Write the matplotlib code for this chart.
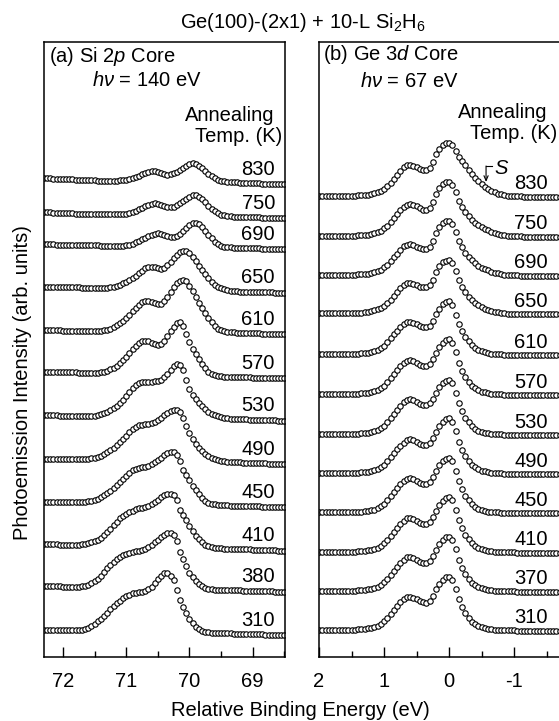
import matplotlib.pyplot as plt
from matplotlib.ticker import MultipleLocator

plt.rcParams['font.family'] = ['Liberation Sans', 'DejaVu Sans']
plt.rcParams['mathtext.fontset'] = 'custom'
plt.rcParams['mathtext.rm'] = 'Liberation Sans'
plt.rcParams['mathtext.it'] = 'Liberation Sans:italic'
plt.rcParams['axes.unicode_minus'] = False

# binding energies (eV), Si 2p panel and Ge 3d panel (relative)
si_energy = [72.3, 72.25, 72.2, 72.15, 72.1, 72.05, 72.0, 71.95, 71.9, 71.85,
             71.8, 71.75, 71.7, 71.65, 71.6, 71.55, 71.5, 71.45, 71.4, 71.35,
             71.3, 71.25, 71.2, 71.15, 71.1, 71.05, 71.0, 70.95, 70.9, 70.85,
             70.8, 70.75, 70.7, 70.65, 70.6, 70.55, 70.5, 70.45, 70.4, 70.35,
             70.3, 70.25, 70.2, 70.15, 70.1, 70.05, 70.0, 69.95, 69.9, 69.85,
             69.8, 69.75, 69.7, 69.65, 69.6, 69.55, 69.5, 69.45, 69.4, 69.35,
             69.3, 69.25, 69.2, 69.15, 69.1, 69.05, 69.0, 68.95, 68.9, 68.85,
             68.8, 68.75, 68.7, 68.65, 68.6, 68.55, 68.5]
ge_energy = [2.0, 1.95, 1.9, 1.85, 1.8, 1.75, 1.7, 1.65, 1.6, 1.55,
             1.5, 1.45, 1.4, 1.35, 1.3, 1.25, 1.2, 1.15, 1.1, 1.05,
             1.0, 0.95, 0.9, 0.85, 0.8, 0.75, 0.7, 0.65, 0.6, 0.55,
             0.5, 0.45, 0.4, 0.35, 0.3, 0.25, 0.2, 0.15, 0.1, 0.05,
             0.0, -0.05, -0.1, -0.15, -0.2, -0.25, -0.3, -0.35, -0.4, -0.45,
             -0.5, -0.55, -0.6, -0.65, -0.7, -0.75, -0.8, -0.85, -0.9, -0.95,
             -1.0, -1.05, -1.1, -1.15, -1.2, -1.25, -1.3, -1.35, -1.4, -1.45,
             -1.5, -1.55, -1.6, -1.65, -1.7, -1.75]

si_temps = ['830', '750', '690', '650', '610', '570', '530', '490', '450', '410', '380', '310']
ge_temps = ['830', '750', '690', '650', '610', '570', '530', '490', '450', '410', '370', '310']

# vertical offset of each spectrum (arb. units)
si_offset = [472.7, 438.7, 407.7, 364.3, 323, 278.7, 236.3, 193, 149.7, 106.3, 65.3, 22]
ge_offset = [460.3, 420.3, 381.3, 343, 302, 262, 222, 183, 143.7, 104.3, 65.3, 26.3]

# Si 2p intensities (arb. units, above right-hand background)
si_830 = [6, 6, 6, 5.5, 5.5, 5.5, 5, 5, 5, 5, 4.5, 4.5, 4.5, 4, 4, 4, 4,
          3.5, 3.5, 3.5, 3.5, 3.5, 3.5, 3.5, 4, 4,
          4.5, 5, 6, 7, 8.5, 10, 11, 12, 13, 13.3, 12.5, 11, 10, 9.5, 10, 11, 12.5, 14, 16, 18.5, 20,
          21, 20, 18, 16, 13, 10, 8, 6, 4.5, 3.5, 3, 2.5,
          2.2, 2, 2, 1.8, 1.6, 1.5, 1.3, 1.2, 1, 1, 0.8, 0.7, 0.5, 0.5, 0.3, 0.2, 0, 0]
si_750 = [6, 6, 6, 5.5, 5.5, 5.5, 5, 5, 5, 5, 4.5, 4.5, 4.5, 4.5,
          4, 4, 4, 4, 4, 4, 4, 4, 4, 4, 4, 4,
          4.5, 5, 6, 7.5, 9, 10.5, 12, 13.5, 14.5, 15, 14.5, 13.5, 12.5, 11.5, 11, 11.5, 13, 15, 17, 19.5, 21.5,
          23, 23, 21.5, 19, 16, 12.5, 9.5, 7, 5, 3.5, 3, 2.5, 2, 1.8,
          1.7, 1.6, 1.5, 1.4, 1.3, 1.2, 1.0, 0.9, 0.8, 0.7, 0.6, 0.5, 0.4, 0.2, 0.1, 0]
si_690 = [5, 5, 5, 5, 4.5, 4.5, 4.5, 4.5, 4.5, 4.5, 4, 4, 4, 4, 4, 4, 4, 4,
          3.5, 3.5, 3.5, 3.5, 3.5, 3.5, 3.5, 3.5,
          4, 4.5, 5.5, 7, 8.5, 10, 11.5, 13, 14.5, 15.5, 16, 15.5, 14.5, 13.5, 12.5, 12.5, 13.5, 15.5, 18, 21, 24,
          26, 26.5, 25, 22, 18.5, 14.5, 11, 7.5, 5, 3.5, 2.8, 2.3, 2,
          1.8, 1.7, 1.6, 1.5, 1.4, 1.3, 1.2, 1.0, 0.9, 0.8, 0.7, 0.6, 0.5, 0.4, 0.2, 0.1, 0]
si_650 = [6, 6, 6, 6, 5.5, 5.5, 5.5, 5.5, 5.5, 5.5, 5.5, 5.5,
          5, 5, 5, 5, 5, 5, 5, 5, 5,
          5.5, 6, 7, 8, 9.5, 11, 13, 15, 17, 19.5, 22, 24.5, 26, 26, 25.5, 24.5, 24, 25, 27.5, 31, 34.5,
          38, 40.5, 42, 41.5, 39.5,
          36, 32, 27, 22.5, 19, 14.5, 11, 8, 6, 4.5, 3.5, 2.5, 2, 1.5,
          1.3, 1.2, 1.1, 1.0, 0.9, 0.8, 0.7, 0.6, 0.5, 0.5, 0.4, 0.3, 0.2, 0.1, 0, 0]
si_610 = [4, 4, 4, 4, 4, 4, 3.5, 3.5, 3.5, 3.5, 3.5, 3.5, 3.5, 3.5, 3.5, 3.5, 3.5, 3.5, 3.5,
          4, 4.5, 5.5, 7, 9, 11, 13.5, 16.5, 19.5, 23, 26.5, 29.5, 32, 33.3, 33, 32, 31, 30, 30.5, 33,
          37.5, 42.5, 47.5, 51, 53.5, 54.5, 53.5, 48.5,
          43, 37.5, 31, 26, 21, 16, 12, 8, 5.5, 4, 3, 2.5, 2, 1.6,
          1.4, 1.2, 1.1, 1.0, 0.9, 0.8, 0.7, 0.6, 0.5, 0.4, 0.3, 0.3, 0.2, 0.1, 0, 0]
si_570 = [6.5, 6.5, 6.5, 6.5, 6.5, 6, 6, 6, 6, 6, 6, 5.5, 5.5, 5.5, 5.5, 5.5, 5.5, 5.5,
          6, 6.5, 7.5, 9, 10.5, 12.5, 15, 18, 21.5, 25, 29, 32.5, 35, 37, 37.7, 37, 35.5, 34, 33.3,
          34, 37, 42, 47, 51.5, 55,
          56.5, 52.5, 44, 36, 29, 24, 19, 14, 10, 6.5, 4.5, 3, 2.5, 2,
          1.8, 1.6, 1.5, 1.4, 1.3, 1.2, 1.1, 1.0, 0.9, 0.8, 0.7, 0.6, 0.5, 0.5, 0.4, 0.3, 0.2, 0.1, 0, 0]
si_530 = [5.5, 5.5, 5.5, 5.5, 5.5, 5, 5, 5, 5, 5, 5, 4.5, 4.5, 4.5, 4.5, 4.5,
          5, 5.5, 6.5, 7.5, 9, 11, 13, 15, 17.5, 21, 25, 29, 32.5, 35.5, 37.5, 38.5, 39, 39, 39, 39.5,
          40, 41, 43.5, 47, 51, 54.5, 57, 56,
          50.5, 41, 32, 26, 22, 18, 14.5, 11.5, 9, 7, 5.5, 4.5, 3.5, 3, 2.5,
          2.2, 2.0, 1.8, 1.6, 1.5, 1.4, 1.2, 1.1, 1.0, 0.8, 0.7, 0.6, 0.5, 0.4, 0.3, 0.2, 0.1, 0]
si_490 = [5.5, 5.5, 5.5, 5.5, 5.5, 5.5, 5, 5, 5, 5, 5, 5, 5, 5,
          5.5, 6, 6.5, 7.5, 8.5, 10, 12, 14, 16.5, 19, 22, 25, 28.5, 32, 35, 37.5, 39, 39.5, 40, 40.5,
          41, 42.5, 44.5, 46.5, 49, 51, 53, 54.5, 54.5, 52.5, 46.5, 38, 31, 25, 20.5, 16.5, 13, 10.5,
          8, 6.5, 5, 4, 3.3,
          2.8, 2.5, 2.2, 2.0, 1.8, 1.6, 1.5, 1.4, 1.2, 1.1, 1.0, 0.8, 0.7, 0.6, 0.5, 0.4, 0.3, 0.2, 0.1, 0]
si_450 = [5.5, 5.5, 5.5, 5.5, 5.5, 5.5, 5, 5, 5, 5, 5, 5, 5,
          5.5, 6, 6.5, 7.5, 8.5, 10, 12, 14, 16.5, 19, 22, 25, 28, 31.5, 34.5, 37, 38.5, 39.3, 40, 40.5,
          41.5, 43, 45, 47, 49.5, 52, 54, 55.5, 55, 52, 46, 37.5, 32, 27, 21.5, 17, 13, 9.5, 6.5, 4.8,
          3.6, 3, 2.5, 2.2,
          2.0, 1.9, 1.8, 1.7, 1.6, 1.5, 1.4, 1.3, 1.2, 1.1, 1.0, 0.9, 0.8, 0.6, 0.5, 0.4, 0.3, 0.2, 0.1, 0]
si_410 = [6.5, 6.5, 6.5, 6.5, 6.5, 6, 6, 6, 6, 6, 6, 6,
          6.5, 7, 7.5, 8.5, 9.5, 11, 13, 15.5, 18.5, 22, 25.5, 29, 32.5, 35, 37, 38.5, 40, 41.5, 42.5,
          43, 43.5, 44.5, 46.5, 48.5, 51, 53.5, 55.5, 57, 57, 55.5, 50.5, 41, 36, 31, 25, 20, 15, 12,
          8.5, 6, 4.5, 3.5, 3, 2.6, 2.3,
          2.1, 2.0, 1.9, 1.8, 1.7, 1.6, 1.5, 1.4, 1.3, 1.2, 1.0, 0.9, 0.8, 0.6, 0.5, 0.4, 0.3, 0.2, 0.1, 0]
si_380 = [5.5, 5.5, 5.5, 5.5, 5.5, 5.5, 5, 5, 5, 5, 5, 5,
          5.5, 6, 7, 8.5, 10.5, 13, 16, 19.5, 24, 27, 30, 32.5, 34.5, 36.5, 38, 39, 40, 40.5, 41, 41.5,
          42.5, 44.5, 47, 49.5, 52, 54.5, 57, 59, 58.5, 57, 51, 40, 33, 26, 19, 14.5, 10.5, 7.5, 5.5,
          4, 3, 2.5, 2.2, 2,
          1.9, 1.8, 1.7, 1.6, 1.5, 1.4, 1.3, 1.2, 1.1, 1.0, 0.9, 0.8, 0.7, 0.6, 0.5, 0.4, 0.3, 0.2, 0.1, 0, 0]
si_310 = [5.5, 5.5, 5.5, 5.5, 5.5, 5.5, 5, 5, 5, 5, 5, 5,
          5.5, 6, 7.5, 9, 11, 14, 16.5, 19, 22.5, 26, 29.5, 32, 34.5, 37, 39, 40.5, 42, 42.5, 43, 43.3,
          44, 46, 48.5, 52, 56, 59, 62, 62, 59.5, 55, 45, 35, 28, 22, 16.5, 12, 8.5, 6, 4.3, 3.3, 2.7,
          2.4, 2.2, 2,
          1.9, 1.8, 1.7, 1.6, 1.5, 1.4, 1.3, 1.2, 1.1, 1.0, 0.9, 0.8, 0.7, 0.6, 0.5, 0.4, 0.3, 0.2, 0.1, 0, 0]

# Ge 3d intensities
ge_830 = [1, 1, 1, 1, 1, 1, 1, 1, 1, 1, 1,
          1.1, 1.3, 1.5, 1.8, 2.2, 2.8, 3.5, 4.5, 6, 8, 10.5, 14, 18, 22, 26, 29.5, 31.5, 31.7, 31,
          29.5, 28, 27, 26.7, 29, 35, 42.5, 48, 51.5, 53.5, 54, 51.5, 46, 40, 35.5, 31.5, 27, 23, 19,
          15.5, 12.5, 10, 7.8, 5.8, 4.3, 3.2, 2.3, 1.6, 1.1, 0.8, 0.6, 0.4, 0.3, 0.2, 0.1,
          0, 0, 0, 0, 0, 0, 0, 0, 0, 0, 0]
ge_750 = [1, 1, 1, 1, 1, 1, 1, 1, 1, 1, 1,
          1.1, 1.3, 1.5, 1.8, 2.2, 2.8, 3.6, 4.7, 6.2, 8.3, 11, 14.5, 18.5,
          22.5, 26.5, 30, 32, 32.7, 32, 30.5, 28.5, 27, 26.7, 29, 35, 42.5, 48.5, 52.5, 54.5, 55, 52,
          44.5, 36, 30, 24.5, 20.5, 17, 14, 11.5, 9.5, 7.8, 6.3, 5, 3.9, 3, 2.2, 1.6, 1.2, 0.9, 0.6,
          0.4, 0.3, 0.2, 0.1,
          0, 0, 0, 0, 0, 0, 0, 0, 0, 0, 0]
ge_690 = [1, 1, 1, 1, 1, 1, 1, 1, 1, 1, 1,
          1.1, 1.3, 1.5, 1.8, 2.2, 2.8, 3.6, 4.7, 6.2, 8.3, 11, 14.5, 18.5,
          22, 26, 29.5, 31, 31.4, 30.5, 29, 27.5, 26.8, 26.7, 29, 35, 42.5, 48.5, 52.5, 54.5, 55, 52,
          44, 35, 28.5, 23, 19, 15.5, 12.5, 10, 8.2, 6.7, 5.3, 4.2, 3.2, 2.4, 1.7, 1.2, 0.9, 0.6, 0.4,
          0.3, 0.2, 0.1,
          0, 0, 0, 0, 0, 0, 0, 0, 0, 0, 0, 0]
ge_650 = [1, 1, 1, 1, 1, 1, 1, 1, 1, 1, 1,
          1.1, 1.3, 1.5, 1.8, 2.2, 2.8, 3.6, 4.7, 6.2, 8.3, 11, 14.5, 18.5,
          22, 26, 29.5, 31, 31.3, 30.5, 29, 27.5, 26.8, 26.7, 29, 34.5, 42, 48, 52, 53.5, 54, 51, 43,
          34, 27.5, 22, 17.5, 14, 11, 8.7, 6.8, 5.3, 4, 3, 2.2, 1.6, 1.1, 0.8, 0.5, 0.3, 0.2, 0.1,
          0, 0, 0, 0, 0, 0, 0, 0, 0, 0, 0, 0, 0, 0]
ge_610 = [1, 1, 1, 1, 1, 1, 1, 1, 1, 1, 1,
          1.2, 1.4, 1.6, 2, 2.5, 3, 3.8, 5, 7, 9.5, 13, 17, 21,
          24.5, 28, 31, 33, 33.3, 32.5, 31, 29.5, 28, 27.7, 29.5, 34.5, 41, 46.5, 51, 53.5, 54.3, 50,
          40, 31.5, 24.5, 18.5, 14, 10, 7, 5, 3.6, 2.7, 2, 1.5, 1.1, 0.8, 0.6, 0.4, 0.3, 0.2, 0.1,
          0, 0, 0, 0, 0, 0, 0, 0, 0, 0, 0, 0, 0, 0, 0]
ge_570 = [1, 1, 1, 1, 1, 1, 1, 1, 1, 1, 1,
          1.2, 1.4, 1.6, 2, 2.5, 3, 3.8, 5, 7, 9.5, 13, 17, 21,
          25, 29, 32, 34.5, 35, 34, 32.5, 30.5, 29.3, 29, 31, 36, 42.5, 48, 52.5, 55, 55.7, 52.5, 43,
          32.5, 24.5, 18, 13.5, 9.5, 6.7, 4.8, 3.5, 2.6, 1.9, 1.4, 1.1, 0.9, 0.7, 0.5, 0.4, 0.3, 0.3,
          0.2, 0.2, 0.1, 0.1,
          0, 0, 0, 0, 0, 0, 0, 0, 0, 0, 0]
ge_530 = [1, 1, 1, 1, 1, 1, 1, 1, 1, 1, 1,
          1.2, 1.4, 1.6, 2, 2.5, 3, 3.8, 5, 7, 9.5, 13, 17, 21.5,
          25.5, 29.5, 33, 35, 35.7, 35, 33.5, 31.5, 30.3, 30, 32, 36.5, 42.5, 48, 52, 54.5, 55, 52,
          42.5, 32, 24, 17.5, 13, 9, 6.3, 4.5, 3.3, 2.5, 1.8, 1.4, 1.1, 0.9, 0.7, 0.5, 0.4, 0.3, 0.3,
          0.2, 0.2, 0.1, 0.1,
          0, 0, 0, 0, 0, 0, 0, 0, 0, 0, 0]
ge_490 = [1, 1, 1, 1, 1, 1, 1, 1, 1, 1, 1,
          1.2, 1.4, 1.6, 2, 2.5, 3, 3.8, 5, 7, 9.5, 13, 17, 21,
          25, 28.5, 31.5, 34, 34.7, 34, 32.5, 30.5, 29.3, 29, 31, 36, 42.5, 48, 52.5, 55, 55.7, 52.5,
          43, 32.5, 24.5, 18, 13.5, 9.5, 6.7, 4.8, 3.5, 2.6, 1.9, 1.4, 1.1, 0.9, 0.7, 0.5, 0.4, 0.3,
          0.3, 0.2, 0.2, 0.1, 0.1,
          0, 0, 0, 0, 0, 0, 0, 0, 0, 0, 0]
ge_450 = [1, 1, 1, 1, 1, 1, 1, 1, 1, 1, 1,
          1.2, 1.4, 1.6, 2, 2.5, 3, 3.8, 5, 7, 9.5, 13, 17, 21,
          25, 29, 32, 34.5, 35, 34, 32.5, 30.5, 29.5, 29.3, 31, 36, 42.5, 48, 52, 54.5, 55, 52, 42.5,
          32, 24, 17.5, 13, 9, 6.3, 4.5, 3.3, 2.5, 1.8, 1.4, 1.1, 0.9, 0.7, 0.5, 0.4, 0.3, 0.3, 0.2,
          0.2, 0.1, 0.1,
          0, 0, 0, 0, 0, 0, 0, 0, 0, 0, 0]
ge_410 = [1, 1, 1, 1, 1, 1, 1, 1, 1, 1, 1,
          1.2, 1.4, 1.6, 2, 2.5, 3, 3.8, 5, 7, 9.5, 13, 17, 21,
          25, 29, 32, 34.5, 35, 34, 32, 30, 28.9, 28.7, 30.5, 35.5, 42, 47.5, 52, 54.5, 55.4, 52.5, 43,
          32.5, 24.5, 18, 13.5, 9.5, 6.7, 4.8, 3.5, 2.6, 1.9, 1.4, 1.1, 0.9, 0.7, 0.5, 0.4, 0.3, 0.3,
          0.2, 0.2, 0.1, 0.1,
          0, 0, 0, 0, 0, 0, 0, 0, 0, 0, 0]
ge_370 = [1, 1, 1, 1, 1, 1, 1, 1, 1, 1, 1,
          1.2, 1.4, 1.6, 2, 2.5, 3, 3.8, 5, 7, 9.5, 13, 17, 21,
          25, 29, 32, 34.5, 35, 34, 32, 30, 28.6, 28.4, 30.5, 35.5, 42, 47.5, 52, 54.5, 55, 52, 42.5,
          32, 24, 17.5, 13, 9, 6.3, 4.5, 3.3, 2.5, 1.8, 1.4, 1.1, 0.9, 0.7, 0.5, 0.4, 0.3, 0.3, 0.2,
          0.2, 0.1, 0.1,
          0, 0, 0, 0, 0, 0, 0, 0, 0, 0, 0]
ge_310 = [1, 1, 1, 1, 1, 1, 1, 1, 1, 1, 1,
          1.2, 1.4, 1.6, 2, 2.5, 3, 3.8, 5, 7, 9.5, 13, 17, 21,
          25, 28.5, 31.5, 33.5, 34, 33, 31.5, 30, 28.5, 28, 30, 35, 41.5, 47, 51, 53.5, 54, 51, 42,
          32, 24, 17.5, 13, 9, 6.3, 4.5, 3.3, 2.5, 1.8, 1.4, 1.1, 0.9, 0.7, 0.5, 0.4, 0.3, 0.3, 0.2,
          0.2, 0.1, 0.1,
          0, 0, 0, 0, 0, 0, 0, 0, 0, 0, 0]

si_spectra = [si_830, si_750, si_690, si_650, si_610, si_570,
              si_530, si_490, si_450, si_410, si_380, si_310]
ge_spectra = [ge_830, ge_750, ge_690, ge_650, ge_610, ge_570,
              ge_530, ge_490, ge_450, ge_410, ge_370, ge_310]

s_energy = -0.57  # surface component marker on the 830 K Ge 3d curve

FS = 14.5

fig = plt.figure(figsize=(5.59, 7.21), dpi=100)
ax1 = fig.add_axes([44 / 559, 64 / 721, 241 / 559, 615 / 721])
ax2 = fig.add_axes([319 / 559, 64 / 721, 247 / 559, 615 / 721])


def draw_stack(ax, energy, spectra, offsets, temps, label_x, label_dy):
    for spec, off, t in zip(spectra, offsets, temps):
        ax.plot(energy, [v + off for v in spec], 'o', ms=3.9, mfc='white',
                mec='black', mew=0.8)
        ax.text(label_x, off + label_dy, t, ha='right', va='center', fontsize=FS)


draw_stack(ax1, si_energy, si_spectra, si_offset, si_temps, 68.65, 15)
draw_stack(ax2, ge_energy, ge_spectra, ge_offset, ge_temps, -1.52, 13)

ax1.set_xlim(72.3, 68.49)
ax2.set_xlim(2.0, -1.8)
for ax in (ax1, ax2):
    ax.set_ylim(0, 615)
    ax.set_yticks([])
    ax.xaxis.set_major_locator(MultipleLocator(1))
    ax.xaxis.set_minor_locator(MultipleLocator(0.5))
    ax.tick_params(axis='x', which='both', direction='in', top=False, width=1,
                   labelsize=FS, pad=11)
    ax.tick_params(axis='x', which='major', length=7.5)
    ax.tick_params(axis='x', which='minor', length=4)
    for sp in ax.spines.values():
        sp.set_linewidth(1.1)

# panel headers
ax1.text(0.021, 0.976, '(a) Si 2$p$ Core', transform=ax1.transAxes, va='center', fontsize=FS)
ax1.text(0.199, 0.938, r'$h\nu$ = 140 eV', transform=ax1.transAxes, va='center', fontsize=FS)
ax1.text(0.772, 0.881, 'Annealing', transform=ax1.transAxes, ha='center', va='center', fontsize=FS)
ax1.text(0.807, 0.846, 'Temp. (K)', transform=ax1.transAxes, ha='center', va='center', fontsize=FS)

ax2.text(0.016, 0.979, '(b) Ge 3$d$ Core', transform=ax2.transAxes, va='center', fontsize=FS)
ax2.text(0.166, 0.935, r'$h\nu$ = 67 eV', transform=ax2.transAxes, va='center', fontsize=FS)
ax2.text(0.745, 0.885, 'Annealing', transform=ax2.transAxes, ha='center', va='center', fontsize=FS)
ax2.text(0.612, 0.852, 'Temp. (K)', transform=ax2.transAxes, va='center', fontsize=FS)

# S component arrow
y_top = ge_offset[0] + 30.7
ax2.annotate('', xy=(s_energy, ge_offset[0] + 14.7), xytext=(s_energy, y_top),
             arrowprops=dict(arrowstyle='->,head_length=0.35,head_width=0.15',
                             lw=0.8, color='black', shrinkA=0, shrinkB=0))
ax2.plot([s_energy, s_energy - 0.09], [y_top, y_top], color='black', lw=0.8)
ax2.text(s_energy - 0.13, y_top - 2, 'S', style='italic', ha='left', va='center', fontsize=FS)

fig.text(303 / 559, 1 - 22 / 721, 'Ge(100)-(2x1) + 10-L Si$_2$H$_6$',
         ha='center', va='center', fontsize=FS)
fig.text(300 / 559, 1 - 710 / 721, 'Relative Binding Energy (eV)',
         ha='center', va='center', fontsize=FS)
fig.text(23 / 559, 1 - 383 / 721, 'Photoemission Intensity (arb. units)',
         rotation=90, ha='center', va='center', fontsize=FS)

fig.savefig('out.png', dpi=100)
